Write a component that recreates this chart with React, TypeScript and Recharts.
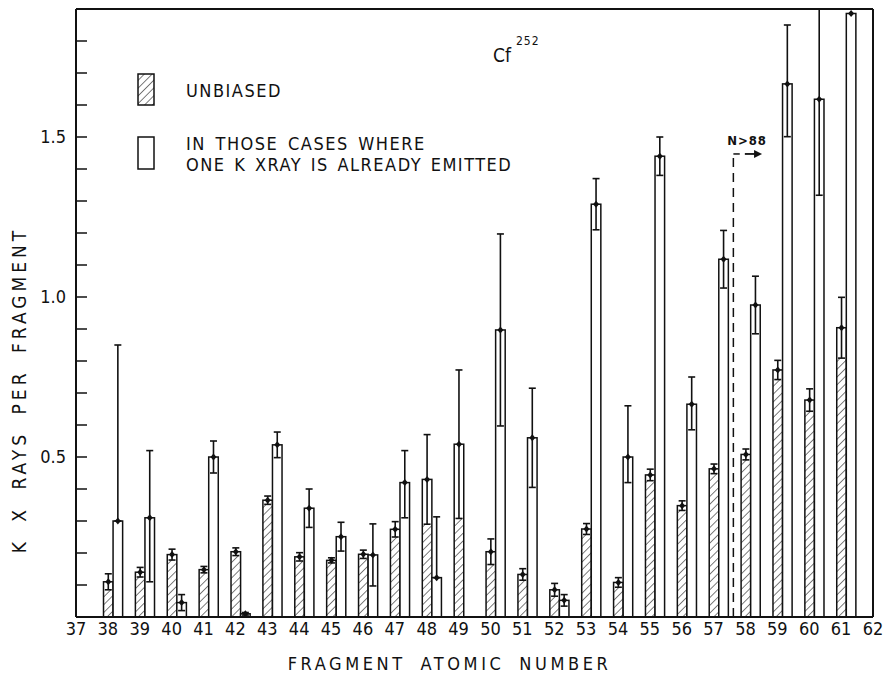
import { ComposedChart, Bar, XAxis, YAxis, ErrorBar, ReferenceLine, ReferenceDot, Label } from 'recharts'

// fragment atomic number (Z) of each bar pair
const atomicNumbers = [38, 39, 40, 41, 42, 43, 44, 45, 46, 47, 48, 49, 50, 51, 52, 53, 54, 55, 56, 57, 58, 59, 60, 61]

// K x-rays per fragment, unbiased
const unbiased = [0.11, 0.14, 0.195, 0.148, 0.204, 0.365, 0.188, 0.177, 0.196, 0.274, 0.43, 0.54, 0.204, 0.133, 0.085, 0.275, 0.108, 0.444, 0.348, 0.463, 0.508, 0.772, 0.678, 0.904]
const unbiasedErr = [0.025, 0.015, 0.017, 0.01, 0.012, 0.013, 0.013, 0.008, 0.013, 0.024, 0.14, 0.232, 0.04, 0.018, 0.02, 0.017, 0.015, 0.018, 0.015, 0.015, 0.017, 0.03, 0.035, 0.095]

// K x-rays per fragment when one K x-ray is already emitted
const emitted = [0.3, 0.31, 0.045, 0.5, 0.01, 0.538, 0.34, 0.251, 0.194, 0.42, 0.123, null, 0.897, 0.56, 0.052, 1.29, 0.5, 1.44, 0.665, 1.118, 0.975, 1.666, 1.618, 1.886]
// [lower, upper]
const emittedErr = [
  [0, 0.55], [0.2, 0.21], [0.025, 0.025], [0.05, 0.05], [0.004, 0.004], [0.04, 0.04],
  [0.06, 0.06], [0.045, 0.045], [0.097, 0.097], [0.11, 0.1], [0, 0.19], null,
  [0.3, 0.3], [0.155, 0.155], [0.018, 0.018], [0.08, 0.08], [0.08, 0.16], [0.06, 0.06],
  [0.08, 0.085], [0.09, 0.09], [0.09, 0.09], [0.165, 0.184], [0.3, 0.3], null,
]

const zTicks = [37, 38, 39, 40, 41, 42, 43, 44, 45, 46, 47, 48, 49, 50, 51, 52, 53, 54, 55, 56, 57, 58, 59, 60, 61, 62]
const frameTicks = [38, 39, 40, 41, 42, 43, 44, 45, 46, 47, 48, 49, 50, 51, 52, 53, 54, 55, 56, 57, 58, 59, 60, 61]
const yTicks = [0.1, 0.2, 0.3, 0.4, 0.5, 0.6, 0.7, 0.8, 0.9, 1.0, 1.1, 1.2, 1.3, 1.4, 1.5, 1.6, 1.7, 1.8]
const yLabelled = [0.5, 1.0, 1.5]

// N > 88 boundary marker
const boundaryZ = 57.62
const boundaryTop = 1.447

const rows = atomicNumbers.map((z, i) => ({
  z,
  unbiased: unbiased[i],
  unbiasedErr: unbiasedErr[i],
  emitted: emitted[i],
  emittedErr: emittedErr[i],
}))

const FONT = "'Liberation Sans Narrow', 'DejaVu Sans Condensed', 'Liberation Sans', sans-serif"
const INK = '#111'

const Marker = ({ cx, cy }: { cx: number; cy: number }) => (
  <path d={`M${cx},${cy - 3.5} L${cx + 3},${cy} L${cx},${cy + 3.5} L${cx - 3},${cy} Z`} fill={INK} />
)

// hatching only reaches the lower end of the error band
const HatchedBar = (props: any) => {
  const { x, y, width, height, payload } = props
  if (!height || height <= 0) return null
  const v = payload.unbiased
  const lo = payload.unbiasedErr || 0
  const fillH = v > 0 ? (height * Math.max(v - lo, 0)) / v : 0
  return (
    <g>
      <rect x={x} y={y + height - fillH} width={width} height={fillH} fill="url(#hatch)" />
      <rect x={x} y={y} width={width} height={height} fill="none" stroke={INK} strokeWidth={1.5} />
      <Marker cx={x + width / 2} cy={y} />
    </g>
  )
}

const OpenBar = (props: any) => {
  const { x, y, width, height } = props
  if (!height || height <= 0) return null
  return (
    <g>
      <rect x={x} y={y} width={width} height={height} fill="#fff" stroke={INK} strokeWidth={1.5} />
      <Marker cx={x + width / 2} cy={y} />
    </g>
  )
}

const YTitle = (props: any) => {
  const { viewBox } = props
  const cx = 19
  const cy = viewBox.y + viewBox.height / 2 + 77
  return (
    <text x={cx} y={cy} transform={`rotate(-90 ${cx} ${cy})`} textAnchor="middle" dominantBaseline="central"
      fill={INK} fontSize={19} fontFamily={FONT} letterSpacing={4} wordSpacing={7}>
      K X RAYS PER FRAGMENT
    </text>
  )
}

const XTitle = (props: any) => {
  const { viewBox } = props
  return (
    <text x={viewBox.x + viewBox.width / 2 - 25} y={670} textAnchor="middle" fill={INK} fontSize={18}
      fontFamily={FONT} letterSpacing={3.6} wordSpacing={6}>
      FRAGMENT ATOMIC NUMBER
    </text>
  )
}

const ArrowHead = (props: any) => {
  const { cx, cy } = props
  return <path d={`M${cx - 8},${cy - 4} L${cx},${cy} L${cx - 8},${cy + 4} Z`} fill={INK} />
}

export default function App() {
  return (
    <div style={{ position: 'absolute', left: 0, top: 0, width: 883, height: 677, background: '#fff' }}>
      <ComposedChart width={883} height={677} data={rows} margin={{ top: 0, right: 0, bottom: 0, left: 0 }}>
        <defs>
          <pattern id="hatch" width="5.5" height="5.5" patternUnits="userSpaceOnUse" patternTransform="rotate(45)">
            <line x1="0" y1="0" x2="0" y2="5.5" stroke={INK} strokeWidth={1.1} />
          </pattern>
        </defs>

        <XAxis xAxisId="bottom" dataKey="z" type="number" domain={[37, 62]} ticks={zTicks} interval={0}
          allowDataOverflow height={60} tickLine={false} tickSize={0} tickMargin={5}
          axisLine={{ stroke: INK, strokeWidth: 2 }}
          tick={{ fill: INK, fontSize: 18, fontFamily: FONT }}>
          <Label content={XTitle} />
        </XAxis>
        <XAxis xAxisId="top" orientation="top" type="number" domain={[37, 62]} ticks={frameTicks} interval={0}
          allowDataOverflow height={9} tick={false} tickSize={-11}
          tickLine={{ stroke: INK, strokeWidth: 1.5 }} axisLine={{ stroke: INK, strokeWidth: 2 }} />
        <YAxis yAxisId="left" type="number" domain={[0, 1.9]} ticks={yTicks} interval={0} allowDataOverflow
          width={76} tickSize={-11} tickMargin={21}
          tickFormatter={(v: number) => (yLabelled.includes(v) ? v.toFixed(1) : '')}
          tick={{ fill: INK, fontSize: 18, fontFamily: FONT }}
          tickLine={{ stroke: INK, strokeWidth: 1.5 }} axisLine={{ stroke: INK, strokeWidth: 2 }}>
          <Label content={YTitle} />
        </YAxis>
        <YAxis yAxisId="right" orientation="right" type="number" domain={[0, 1.9]} ticks={yTicks} interval={0}
          allowDataOverflow width={10} tick={false} tickSize={-10}
          tickLine={{ stroke: INK, strokeWidth: 1.5 }} axisLine={{ stroke: INK, strokeWidth: 2 }} />

        {/* empty leading slot so the hatched bar sits on its Z */}
        <Bar xAxisId="bottom" yAxisId="left" dataKey="lead" barSize={12} isAnimationActive={false} />
        <Bar xAxisId="bottom" yAxisId="left" dataKey="unbiased" barSize={12} shape={HatchedBar} isAnimationActive={false}>
          <ErrorBar dataKey="unbiasedErr" direction="y" width={3.5} stroke={INK} strokeWidth={1.6} />
        </Bar>
        <Bar xAxisId="bottom" yAxisId="left" dataKey="emitted" barSize={12} shape={OpenBar} isAnimationActive={false}>
          <ErrorBar dataKey="emittedErr" direction="y" width={3.5} stroke={INK} strokeWidth={1.6} />
        </Bar>

        <ReferenceLine xAxisId="bottom" yAxisId="left" segment={[{ x: boundaryZ, y: 0 }, { x: boundaryZ, y: boundaryTop }]}
          stroke={INK} strokeWidth={1.5} strokeDasharray="9 6" />
        <ReferenceLine xAxisId="bottom" yAxisId="left" segment={[{ x: boundaryZ, y: boundaryTop }, { x: 57.82, y: boundaryTop }]}
          stroke={INK} strokeWidth={1.5} />
        <ReferenceLine xAxisId="bottom" yAxisId="left" segment={[{ x: 57.98, y: boundaryTop }, { x: 58.4, y: boundaryTop }]}
          stroke={INK} strokeWidth={1.8} />
        <ReferenceDot xAxisId="bottom" yAxisId="left" x={58.52} y={boundaryTop} r={4} shape={ArrowHead} />
        <ReferenceDot xAxisId="bottom" yAxisId="left" x={58.05} y={1.49} r={0} fill="none" stroke="none"
          label={{ value: 'N>88', position: 'center', fill: INK, fontSize: 13, fontWeight: 'bold', fontFamily: FONT, letterSpacing: 1 }} />
      </ComposedChart>

      <svg width={883} height={677} style={{ position: 'absolute', left: 0, top: 0, pointerEvents: 'none' }}>
        <defs>
          <pattern id="hatchKey" width="5.5" height="5.5" patternUnits="userSpaceOnUse" patternTransform="rotate(45)">
            <line x1="0" y1="0" x2="0" y2="5.5" stroke={INK} strokeWidth={1.1} />
          </pattern>
        </defs>
        {/* keep error whiskers inside the frame */}
        <rect x={60} y={0} width={823} height={8} fill="#fff" />
        <g fontFamily={FONT} fill={INK}>
          <rect x={138} y={74} width={16} height={31} fill="url(#hatchKey)" stroke={INK} strokeWidth={1.5} />
          <text x={186} y={97} fontSize={18} letterSpacing={1.5}>UNBIASED</text>
          <rect x={138} y={137} width={16} height={32} fill="#fff" stroke={INK} strokeWidth={1.5} />
          <text x={186} y={150} fontSize={18} letterSpacing={1.5} wordSpacing={3}>IN THOSE CASES WHERE</text>
          <text x={186} y={171} fontSize={18} letterSpacing={1.5} wordSpacing={2}>ONE K XRAY IS ALREADY EMITTED</text>
          <text x={493} y={62} fontSize={19}>Cf</text>
          <text x={516} y={45} fontSize={12} letterSpacing={1}>252</text>
        </g>
      </svg>
    </div>
  )
}
